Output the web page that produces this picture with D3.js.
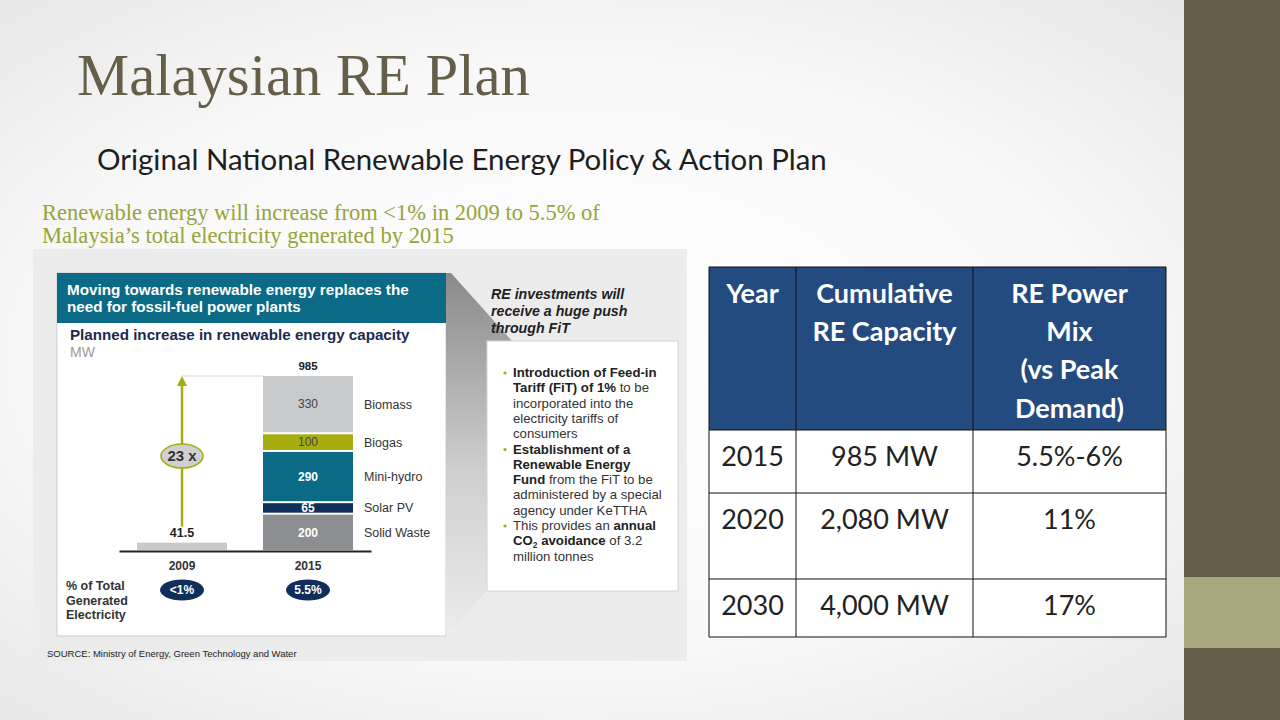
<!DOCTYPE html>
<html>
<head>
<meta charset="utf-8">
<script src="https://cdn.jsdelivr.net/npm/d3@7"></script>
<style>
  body { margin: 0; background: #fff; }
  svg { display: block; }
</style>
</head>
<body>
<script>
// data
var segNames = ["Solid Waste", "Solar PV", "Mini-hydro", "Biogas", "Biomass"];
var segValues = [200, 65, 290, 100, 330];
var years = ["2009", "2015"];
var totals = [41.5, 985];
var shares = ["<1%", "5.5%"];
var growthLabel = "23 x";

var tableHead = [["Year"], ["Cumulative", "RE Capacity"], ["RE Power", "Mix", "(vs Peak", "Demand)"]];
var tableYears = ["2015", "2020", "2030"];
var tableCapacity = ["985 MW", "2,080 MW", "4,000 MW"];
var tableMix = ["5.5%-6%", "11%", "17%"];

// bullet lines: [text, 0 normal / 1 bold / 2 subscript]
var bullets = [
    [[["Introduction of Feed-in", 1]], [["Tariff (FiT) of 1%", 1], [" to be", 0]], [["incorporated into the", 0]], [["electricity tariffs of", 0]], [["consumers", 0]]],
    [[["Establishment of a", 1]], [["Renewable Energy", 1]], [["Fund", 1], [" from the FiT to be", 0]], [["administered by a special", 0]], [["agency  under KeTTHA", 0]]],
    [[["This provides an ", 0], ["annual", 1]], [["CO", 1], ["2", 2], [" avoidance", 1], [" of 3.2", 0]], [["million tonnes", 0]]]
];

var sans = "'Liberation Sans', Arial, sans-serif";
var serif = "'Liberation Serif', 'Times New Roman', serif";
var cal = "Lato, 'Open Sans', sans-serif";

var svg = d3.select("body").append("svg")
    .attr("width", 1280)
    .attr("height", 720);

var defs = svg.append("defs");
var bg = defs.append("radialGradient").attr("id", "bg")
    .attr("cx", "45%").attr("cy", "50%").attr("r", "75%");
bg.append("stop").attr("offset", "0").attr("stop-color", "#ffffff");
bg.append("stop").attr("offset", "0.55").attr("stop-color", "#f8f8f8");
bg.append("stop").attr("offset", "1").attr("stop-color", "#e2e2e2");

var wg = defs.append("linearGradient").attr("id", "wedge")
    .attr("x1", 0).attr("y1", 0).attr("x2", 0).attr("y2", 1);
wg.append("stop").attr("offset", "0").attr("stop-color", "#8a8a8a");
wg.append("stop").attr("offset", "0.55").attr("stop-color", "#cfcfcf");
wg.append("stop").attr("offset", "1").attr("stop-color", "#ececec");

// fit a text to a target width by scaling its font size
function fit(sel, w) {
    var len = sel.node().getComputedTextLength();
    var fs = parseFloat(sel.attr("font-size"));
    sel.attr("font-size", fs * w / len);
    return sel;
}

// slide background + right side band
svg.append("rect").attr("width", 1280).attr("height", 720).attr("fill", "url(#bg)");
svg.append("rect").attr("x", 1184).attr("y", 0).attr("width", 96).attr("height", 720).attr("fill", "#655e48");
svg.append("rect").attr("x", 1184).attr("y", 577).attr("width", 96).attr("height", 71).attr("fill", "#a9a77e");

// titles
fit(svg.append("text").attr("x", 77).attr("y", 95)
    .attr("font-family", serif).attr("font-size", 59).attr("fill", "#655e48")
    .text("Malaysian RE Plan"), 453);

fit(svg.append("text").attr("x", 97).attr("y", 170)
    .attr("font-family", cal).attr("font-size", 26).attr("fill", "#1e1e1e")
    .text("Original National Renewable Energy Policy & Action Plan"), 730);

fit(svg.append("text").attr("x", 42).attr("y", 220)
    .attr("font-family", serif).attr("font-size", 20).attr("fill", "#98a33a")
    .text("Renewable energy will increase from <1% in 2009 to 5.5% of"), 558);
fit(svg.append("text").attr("x", 42).attr("y", 243)
    .attr("font-family", serif).attr("font-size", 20).attr("fill", "#98a33a")
    .text("Malaysia\u2019s total electricity generated by 2015"), 412);

// picture panel
svg.append("rect").attr("x", 33).attr("y", 249).attr("width", 654).attr("height", 412).attr("fill", "#ececec");
svg.append("rect").attr("x", 57).attr("y", 273).attr("width", 389).attr("height", 363)
    .attr("fill", "#fff").attr("stroke", "#cdcdcd");
svg.append("rect").attr("x", 57).attr("y", 273).attr("width", 389).attr("height", 50).attr("fill", "#0b6a86");

svg.append("polygon")
    .attr("points", "446,273 451,273 512,341 487,341 487,591 446,636")
    .attr("fill", "url(#wedge)");
svg.append("rect").attr("x", 487).attr("y", 341).attr("width", 191).attr("height", 250)
    .attr("fill", "#fff").attr("stroke", "#d3d3d3");

fit(svg.append("text").attr("x", 67).attr("y", 295)
    .attr("font-family", sans).attr("font-size", 14).attr("font-weight", "bold")
    .attr("fill", "#fff").text("Moving towards renewable energy replaces the"), 342);
svg.append("text").attr("x", 67).attr("y", 312)
    .attr("font-family", sans).attr("font-size", 15.2).attr("font-weight", "bold")
    .attr("fill", "#fff").text("need for fossil-fuel power plants");
fit(svg.append("text").attr("x", 70).attr("y", 340)
    .attr("font-family", sans).attr("font-size", 14).attr("font-weight", "bold")
    .attr("fill", "#1b2a4e").text("Planned increase in renewable energy capacity"), 340);
svg.append("text").attr("x", 70).attr("y", 357)
    .attr("font-family", sans).attr("font-size", 14).attr("fill", "#9a9a9a").text("MW");

// chart scales
var x = d3.scaleBand()
    .domain(years)
    .range([119, 371])
    .paddingInner(36 / 126)
    .paddingOuter(18 / 126);

var y = d3.scaleLinear()
    .domain([0, totals[1]])
    .range([550, 376]);

var color = d3.scaleOrdinal()
    .domain(segNames)
    .range(["#8d8e91", "#102e5c", "#0b6a86", "#a7ad10", "#c9cacc"]);

var row = { year: years[1] };
segNames.forEach(function (k, i) { row[k] = segValues[i]; });
var stacked = d3.stack().keys(segNames)([row]);

var chart = svg.append("g");
var bw = x.bandwidth();

// 2009 bar
chart.append("rect")
    .attr("x", x(years[0]))
    .attr("y", y(totals[0]))
    .attr("width", bw)
    .attr("height", y(0) - y(totals[0]))
    .attr("fill", "#c8c9cb");

// 2015 stacked bar
var seg = chart.selectAll(".seg")
    .data(stacked)
    .enter().append("g")
    .attr("class", "seg");

seg.append("rect")
    .attr("x", x(years[1]))
    .attr("y", function (d) { return y(d[0][1]); })
    .attr("width", bw)
    .attr("height", function (d, i) { return y(d[0][0]) - y(d[0][1]) - (i > 0 ? 2 : 0); })
    .attr("fill", function (d) { return color(d.key); });

seg.append("text")
    .attr("x", x(years[1]) + bw / 2)
    .attr("y", function (d, i) { return (y(d[0][0]) - (i > 0 ? 2 : 0) + y(d[0][1])) / 2; })
    .attr("dy", "0.36em")
    .attr("text-anchor", "middle")
    .attr("font-family", sans)
    .attr("font-size", 12)
    .attr("font-weight", function (d, i) { return i < 3 ? "bold" : "normal"; })
    .attr("fill", function (d, i) { return i < 3 ? "#fff" : "#444"; })
    .text(function (d, i) { return segValues[i]; });

seg.append("text")
    .attr("x", x(years[1]) + bw + 11)
    .attr("y", function (d, i) { return (y(d[0][0]) - (i > 0 ? 2 : 0) + y(d[0][1])) / 2; })
    .attr("dy", "0.36em")
    .attr("font-family", sans)
    .attr("font-size", 12.5)
    .attr("fill", "#333")
    .text(function (d) { return d.key; });

// totals above bars
chart.selectAll(".total")
    .data(totals)
    .enter().append("text")
    .attr("class", "total")
    .attr("x", function (d, i) { return x(years[i]) + bw / 2; })
    .attr("y", function (d) { return y(d) - 6; })
    .attr("text-anchor", "middle")
    .attr("font-family", sans)
    .attr("font-size", function (d, i) { return i ? 11.5 : 12.5; })
    .attr("font-weight", "bold")
    .attr("fill", "#222")
    .text(function (d) { return d; });

// growth arrow
var ax = x(years[0]) + bw / 2;
chart.append("line")
    .attr("x1", ax).attr("x2", x(years[1]))
    .attr("y1", y(totals[1])).attr("y2", y(totals[1]))
    .attr("stroke", "#d4d4d4").attr("stroke-width", 1);
chart.append("line")
    .attr("x1", ax).attr("x2", ax)
    .attr("y1", y(totals[1]) + 8).attr("y2", y(totals[0]) - 16)
    .attr("stroke", "#a7ad10").attr("stroke-width", 2.5);
chart.append("path")
    .attr("d", "M" + (ax - 5) + "," + (y(totals[1]) + 10) + "L" + ax + "," + y(totals[1]) + "L" + (ax + 5) + "," + (y(totals[1]) + 10) + "Z")
    .attr("fill", "#a7ad10");
var gy = y(totals[1] * 0.54);
chart.append("ellipse")
    .attr("cx", ax).attr("cy", gy).attr("rx", 21).attr("ry", 12)
    .attr("fill", "#d0d0d0").attr("stroke", "#a7ad10").attr("stroke-width", 1.5);
chart.append("text")
    .attr("x", ax).attr("y", gy).attr("dy", "0.36em")
    .attr("text-anchor", "middle")
    .attr("font-family", sans).attr("font-size", 15).attr("font-weight", "bold")
    .attr("fill", "#333").text(growthLabel);

// x axis
var xAxis = chart.append("g")
    .attr("transform", "translate(0," + (y(0) + 1) + ")")
    .call(d3.axisBottom(x).tickSize(0).tickPadding(10));
xAxis.select(".domain").attr("stroke", "#222").attr("stroke-width", 2);
xAxis.selectAll("text")
    .attr("font-family", sans).attr("font-size", 12).attr("font-weight", "bold").attr("fill", "#333");

// share of generated electricity
["% of Total", "Generated", "Electricity"].forEach(function (t, i) {
    chart.append("text").attr("x", 66).attr("y", 590 + i * 14.5)
        .attr("font-family", sans).attr("font-size", 12.5).attr("font-weight", "bold")
        .attr("fill", "#333").text(t);
});
var sh = chart.selectAll(".share")
    .data(shares)
    .enter().append("g")
    .attr("class", "share")
    .attr("transform", function (d, i) { return "translate(" + (x(years[i]) + bw / 2) + ",590)"; });
sh.append("ellipse").attr("rx", 22).attr("ry", 10.5).attr("fill", "#102e5c");
sh.append("text").attr("dy", "0.36em").attr("text-anchor", "middle")
    .attr("font-family", sans).attr("font-size", 12).attr("font-weight", "bold")
    .attr("fill", "#fff").text(function (d) { return d; });

svg.append("text").attr("x", 47).attr("y", 657)
    .attr("font-family", sans).attr("font-size", 9.5).attr("fill", "#222")
    .text("SOURCE: Ministry of Energy, Green Technology and Water");

// callout text
["RE investments will", "receive a huge push", "through FiT"].forEach(function (t, i) {
    svg.append("text").attr("x", 491).attr("y", 299 + i * 17)
        .attr("font-family", sans).attr("font-size", 14.2).attr("font-weight", "bold")
        .attr("font-style", "italic").attr("fill", "#222").text(t);
});

var ly = 377;
bullets.forEach(function (b) {
    svg.append("circle").attr("cx", 505).attr("cy", ly - 4).attr("r", 1.6).attr("fill", "#a7ad10");
    b.forEach(function (line) {
        var t = svg.append("text").attr("x", 513).attr("y", ly)
            .attr("font-family", sans).attr("font-size", 13.2).attr("fill", "#333");
        var prevSub = false;
        line.forEach(function (p) {
            var ts = t.append("tspan").text(p[0]);
            if (p[1] === 1) ts.attr("font-weight", "bold").attr("fill", "#222");
            if (p[1] === 2) {
                ts.attr("font-weight", "bold").attr("font-size", 8.5).attr("dy", 3);
                prevSub = true;
            } else if (prevSub) {
                ts.attr("dy", -3);
                prevSub = false;
            }
        });
        ly += 15.3;
    });
});

// table
var colX = [709, 796, 973, 1166];
var rowY = [267, 430, 493, 579, 637];
var table = svg.append("g");
table.append("rect").attr("x", colX[0]).attr("y", rowY[0])
    .attr("width", colX[3] - colX[0]).attr("height", rowY[1] - rowY[0]).attr("fill", "#234b7f");
table.append("rect").attr("x", colX[0]).attr("y", rowY[1])
    .attr("width", colX[3] - colX[0]).attr("height", rowY[4] - rowY[1]).attr("fill", "#fff");
rowY.forEach(function (ry) {
    table.append("line").attr("x1", colX[0]).attr("x2", colX[3]).attr("y1", ry).attr("y2", ry)
        .attr("stroke", "#111").attr("stroke-width", 1);
});
colX.forEach(function (cx) {
    table.append("line").attr("x1", cx).attr("x2", cx).attr("y1", rowY[0]).attr("y2", rowY[4])
        .attr("stroke", "#111").attr("stroke-width", 1);
});

tableHead.forEach(function (lines, c) {
    lines.forEach(function (t, i) {
        table.append("text")
            .attr("x", (colX[c] + colX[c + 1]) / 2)
            .attr("y", rowY[0] + 26 + i * 38.3)
            .attr("dy", "0.36em")
            .attr("text-anchor", "middle")
            .attr("font-family", cal).attr("font-size", 27).attr("font-weight", "bold")
            .attr("fill", "#fff").text(t);
    });
});

[tableYears, tableCapacity, tableMix].forEach(function (col, c) {
    col.forEach(function (t, r) {
        table.append("text")
            .attr("x", (colX[c] + colX[c + 1]) / 2)
            .attr("y", rowY[r + 1] + 26)
            .attr("dy", "0.36em")
            .attr("text-anchor", "middle")
            .attr("font-family", cal).attr("font-size", 27)
            .attr("fill", "#222").text(t);
    });
});
</script>
</body>
</html>
